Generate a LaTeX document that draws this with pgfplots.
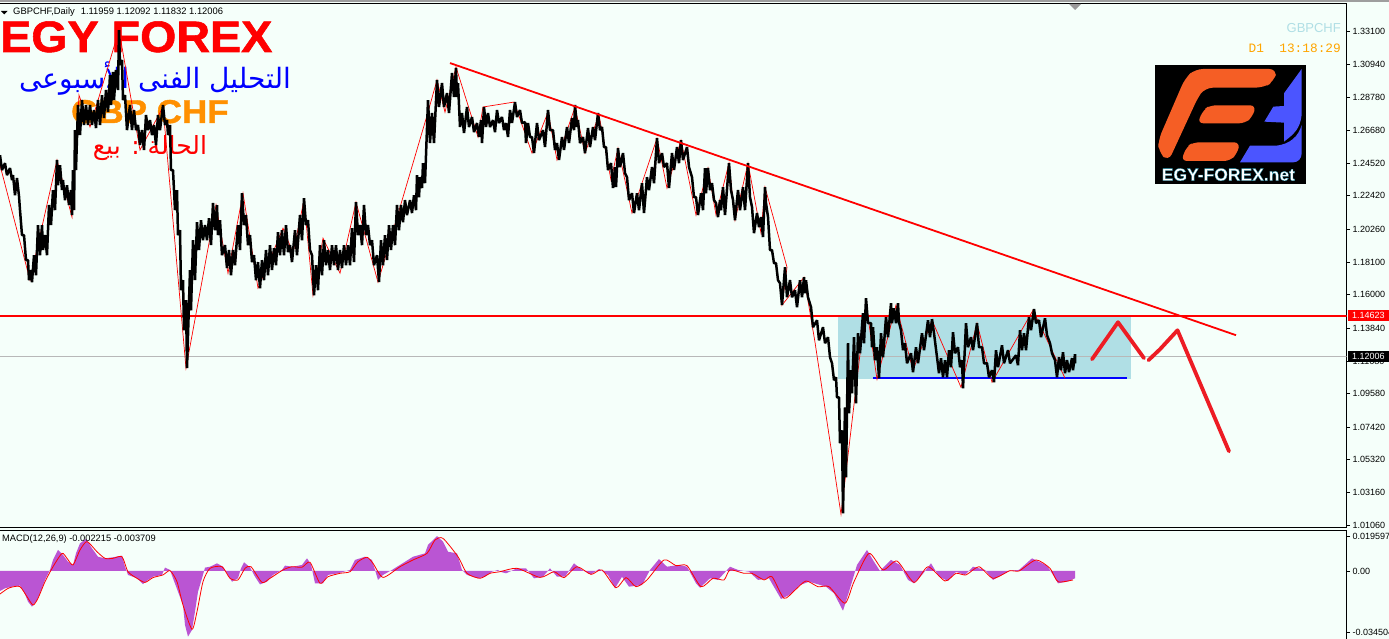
\documentclass[border=0pt]{standalone}
\usepackage{pgfplots}
\pgfplotsset{compat=1.18}
\usepackage{fontspec}
\setmainfont{Liberation Sans}
\newfontfamily\arabicfont[Script=Arabic]{DejaVu Sans}
\newfontfamily\monofont{Liberation Mono}
\newfontfamily\heavyfont[FakeBold=1.2]{Liberation Sans Bold}
\newfontfamily\glowfont[FakeBold=1.6]{Liberation Sans Bold}
\TeXXeTstate=1
\definecolor{bgmint}{HTML}{F5FFFA}
\definecolor{boxblue}{HTML}{B0DFE5}
\definecolor{macdfill}{HTML}{BA55D3}
\definecolor{drawred}{HTML}{ED1C24}
\definecolor{logoorange}{HTML}{F55E25}
\definecolor{logoblue}{HTML}{4B55FF}
\definecolor{titleorange}{HTML}{FF9000}
\definecolor{clockorange}{HTML}{FFA500}
\newcommand{\fs}[1]{\fontsize{#1}{#1}\selectfont}

\begin{document}
\begin{tikzpicture}[x=1pt,y=1pt]
\useasboundingbox (0,0) rectangle (1389,639);
\fill[bgmint] (0,0) rectangle (1389,639);
\fill[black!38] (0,636.5) rectangle (1389,639);

% texts sit under the price line
\node[anchor=base west,inner sep=0,text=red,font=\heavyfont\fs{44}] at (0,587) {\scalebox{1.06}[1]{EGY FOREX}};
\node[anchor=center,inner sep=0,text=blue,font=\fs{28}\arabicfont] at (155,560) {\beginR التحليل الفنى الأسبوعى\endR};
\node[anchor=base west,inner sep=0,text=titleorange,font=\heavyfont\fs{33}] at (71,516) {\scalebox{1.06}[1]{GBP CHF}};
\node[anchor=center,inner sep=0,text=red,font=\fs{25}\arabicfont] at (150,491) {\beginR الحالة : بيع\endR};

\begin{axis}[
  at={(-2pt,111pt)}, anchor=south west, scale only axis,
  width=1348.5pt, height=524pt,
  xmin=-2, xmax=1346.5, ymin=1.00866, ymax=1.34851,
  xtick=\empty, scaled y ticks=false,
  ytick pos=right, yticklabel pos=right,
  ytick={1.331,1.3094,1.2878,1.2668,1.2452,1.2242,1.2026,1.181,1.16,1.1384,1.1168,1.0958,1.0742,1.0532,1.0316,1.0106},
  yticklabels={1.33100,1.30940,1.28780,1.26680,1.24520,1.22420,1.20260,1.18100,1.16000,1.13840,1.11680,1.09580,1.07420,1.05320,1.03160,1.01060},
  tick align=outside, major tick length=3.5pt,
  tick style={black,line width=0.8pt},
  y tick label style={font=\fs{9},xshift=-1pt},
  axis line style={black,line width=1pt},
]
% consolidation box
\addplot[fill=boxblue,draw=none] coordinates {(838,1.1454)(1131,1.1454)(1131,1.1055)(838,1.1055)};
% last price line
\addplot[black!28,line width=0.9pt] coordinates {(-2,1.12006)(1346.5,1.12006)};
% resistance
\addplot[red,line width=1.8pt] coordinates {(-2,1.14623)(1346.5,1.14623)};
% support
\addplot[blue,line width=1.8pt] coordinates {(873,1.1058)(1127,1.1058)};
% zigzag
\addplot[red,line width=0.7pt] coordinates {
(0,1.2440)(30,1.1694)(57,1.2473)(72,1.2103)(79,1.2894)(90,1.2687)(119,1.3316)(140,1.2538)(163,1.2817)(186,1.1123)
(216,1.2181)(228,1.1739)(243,1.2258)(258,1.1642)(283,1.2031)(293,1.1869)(304,1.2213)(313,1.1596)(323,1.1966)(340,1.1739)
(356,1.2200)(378,1.1681)(428,1.2784)(437,1.2992)(445,1.2784)(456,1.3076)(478,1.2622)(483,1.2817)(514,1.2849)(532,1.2518)
(548,1.2784)(557,1.2473)(575,1.2817)(585,1.2518)(599,1.2765)(611,1.2343)(618,1.2550)(632,1.2129)(657,1.2615)(667,1.2291)
(681,1.2602)(696,1.2116)(708,1.2421)(716,1.2116)(729,1.2453)(735,1.2083)(748,1.2453)(761,1.1999)(765,1.2297)(787,1.1778)
(782,1.1532)(804,1.1713)(815,1.1291)(841,1.0175)(866,1.1544)(877,1.1051)(896,1.1532)(913,1.1110)(932,1.1434)(961,1.0999)
(977,1.1415)(992,1.1032)(1033,1.1499)(1065,1.1058)
};
% price, high and low of each stretch
\addplot[black,line width=2.5pt,line join=bevel] coordinates {
(0,1.2505)(2,1.2408)(5,1.2453)(7,1.2375)(10,1.2421)(12,1.2343)(13,1.2375)(15,1.2245)(17,1.2356)(19,1.2239)
(20,1.2148)(22,1.1986)(24,1.1986)(26,1.1824)(28,1.1824)(29,1.1694)(31,1.1759)(32,1.1681)(34,1.1856)(36,1.1726)
(38,1.2051)(40,1.1856)(42,1.2051)(43,1.1889)(45,1.1986)(47,1.1856)(49,1.2181)(51,1.2051)(53,1.2278)(55,1.2148)
(57,1.2473)(58,1.2310)(60,1.2440)(62,1.2278)(63,1.2343)(65,1.2213)(67,1.2310)(69,1.2181)(71,1.2278)(72,1.2116)
(73,1.2408)(74,1.2148)(75,1.2667)(76,1.2408)(78,1.2830)(80,1.2635)(82,1.2862)(84,1.2700)(86,1.2830)(88,1.2700)
(90,1.2830)(92,1.2700)(94,1.2797)(96,1.2680)(98,1.2862)(100,1.2700)(102,1.2894)(104,1.2745)(106,1.2927)(108,1.2784)
(110,1.3024)(111,1.2830)(113,1.3044)(114,1.2862)(116,1.3057)(118,1.2927)(119,1.3316)(120,1.3089)(122,1.3122)(123,1.2862)
(125,1.2894)(127,1.2667)(130,1.2830)(132,1.2667)(134,1.2797)(136,1.2667)(138,1.2700)(140,1.2570)(142,1.2667)(144,1.2538)
(146,1.2765)(148,1.2667)(150,1.2732)(152,1.2635)(154,1.2700)(156,1.2570)(158,1.2765)(160,1.2667)(163,1.2830)(165,1.2700)
(167,1.2732)(168,1.2635)(170,1.2700)(171,1.2408)(173,1.2408)(175,1.2148)(177,1.2278)(178,1.1986)(180,1.2018)(181,1.1629)
(183,1.1694)(184,1.1369)(186,1.1564)(187,1.1123)(190,1.1759)(191,1.1499)(193,1.1953)(195,1.1694)(197,1.2070)(199,1.1889)
(201,1.2083)(203,1.1953)(205,1.2051)(207,1.1953)(209,1.2096)(211,1.1921)(213,1.2194)(215,1.2018)(217,1.2181)(218,1.1986)
(220,1.2083)(222,1.1856)(225,1.1921)(227,1.1772)(229,1.1889)(231,1.1726)(233,1.1889)(235,1.1791)(238,1.2051)(240,1.1889)
(242,1.2258)(244,1.2051)(246,1.2116)(248,1.1921)(250,1.1986)(252,1.1811)(254,1.1856)(256,1.1694)(258,1.1811)(260,1.1642)
(262,1.1824)(264,1.1694)(266,1.1889)(268,1.1726)(270,1.1921)(272,1.1759)(274,1.1901)(276,1.1791)(278,1.2005)(280,1.1856)
(282,1.2018)(284,1.1856)(286,1.2051)(288,1.1876)(290,1.1921)(292,1.1811)(295,1.2018)(297,1.1856)(300,1.2116)(302,1.1953)
(304,1.2226)(306,1.2051)(308,1.2083)(310,1.1889)(312,1.1856)(314,1.1596)(316,1.1791)(318,1.1629)(320,1.1921)(322,1.1726)
(324,1.1953)(326,1.1791)(328,1.1889)(330,1.1759)(332,1.1921)(334,1.1791)(336,1.1921)(338,1.1759)(340,1.1889)(342,1.1772)
(344,1.1921)(346,1.1791)(348,1.1921)(350,1.1791)(352,1.2031)(354,1.1811)(356,1.2200)(358,1.1986)(360,1.2051)(362,1.1921)
(364,1.2181)(366,1.1986)(368,1.2051)(370,1.1921)(372,1.1953)(374,1.1791)(377,1.1856)(379,1.1681)(381,1.1953)(383,1.1791)
(385,1.1986)(387,1.1824)(389,1.2051)(391,1.1889)(393,1.2051)(395,1.1921)(397,1.2181)(399,1.2018)(401,1.2181)(403,1.2070)
(405,1.2213)(407,1.2116)(410,1.2213)(412,1.2129)(414,1.2245)(416,1.2148)(417,1.2375)(419,1.2232)(420,1.2362)(422,1.2291)
(423,1.2453)(425,1.2323)(428,1.2862)(430,1.2583)(432,1.2778)(434,1.2583)(437,1.2992)(439,1.2817)(442,1.2972)(444,1.2817)
(447,1.2907)(449,1.2778)(452,1.3037)(454,1.2881)(456,1.3070)(457,1.2881)(458,1.2972)(460,1.2687)(462,1.2778)(464,1.2648)
(467,1.2817)(469,1.2687)(472,1.2752)(474,1.2654)(477,1.2713)(479,1.2622)(481,1.2732)(482,1.2583)(484,1.2817)(486,1.2687)
(488,1.2778)(490,1.2687)(493,1.2732)(495,1.2654)(497,1.2797)(499,1.2713)(502,1.2752)(504,1.2667)(506,1.2713)(508,1.2622)
(510,1.2797)(512,1.2713)(515,1.2849)(517,1.2752)(520,1.2797)(522,1.2713)(525,1.2719)(526,1.2583)(528,1.2713)(530,1.2622)
(532,1.2622)(534,1.2518)(537,1.2713)(539,1.2602)(543,1.2667)(545,1.2557)(548,1.2797)(550,1.2667)(553,1.2667)(555,1.2538)
(557,1.2583)(559,1.2473)(562,1.2622)(564,1.2538)(567,1.2687)(569,1.2583)(572,1.2745)(574,1.2667)(575,1.2830)(577,1.2687)
(578,1.2732)(580,1.2583)(583,1.2622)(585,1.2518)(588,1.2680)(590,1.2557)(593,1.2687)(595,1.2602)(598,1.2778)(600,1.2667)
(602,1.2687)(604,1.2557)(606,1.2557)(608,1.2408)(611,1.2453)(613,1.2291)(615,1.2427)(616,1.2297)(618,1.2550)(620,1.2427)
(623,1.2518)(625,1.2388)(627,1.2362)(629,1.2213)(632,1.2258)(634,1.2129)(637,1.2258)(639,1.2148)(642,1.2323)(644,1.2129)
(647,1.2362)(649,1.2278)(652,1.2427)(654,1.2323)(657,1.2615)(659,1.2453)(662,1.2518)(664,1.2427)(667,1.2453)(669,1.2291)
(672,1.2518)(674,1.2408)(677,1.2557)(679,1.2453)(681,1.2602)(683,1.2473)(687,1.2557)(689,1.2427)(692,1.2362)(694,1.2232)
(696,1.2232)(698,1.2116)(701,1.2258)(703,1.2148)(705,1.2421)(706,1.2258)(708,1.2421)(710,1.2278)(712,1.2323)(714,1.2213)
(716,1.2194)(718,1.2103)(720,1.2213)(721,1.2148)(723,1.2297)(725,1.2116)(729,1.2453)(731,1.2278)(733,1.2213)(735,1.2083)
(738,1.2278)(740,1.2148)(743,1.2297)(745,1.2148)(748,1.2453)(750,1.2232)(752,1.2168)(754,1.1999)(757,1.2129)(759,1.2038)
(761,1.2103)(763,1.1973)(765,1.2297)(766,1.2194)(768,1.2103)(770,1.1889)(772,1.1889)(774,1.1804)(776,1.1804)(778,1.1694)
(780,1.1674)(782,1.1532)(785,1.1778)(787,1.1583)(790,1.1694)(792,1.1583)(795,1.1629)(797,1.1519)(800,1.1694)(802,1.1583)
(804,1.1713)(805,1.1609)(806,1.1694)(808,1.1583)(811,1.1519)(813,1.1389)(817,1.1434)(819,1.1304)(823,1.1389)(825,1.1285)
(828,1.1324)(830,1.1194)(832,1.1155)(834,1.1045)(836,1.1064)(837,1.0934)(839,1.0934)(840,1.0636)(842,1.0720)(843,1.0182)
(845,1.0869)(846,1.0415)(848,1.1285)(849,1.0831)(851,1.1110)(852,1.0960)(854,1.1324)(856,1.0895)(858,1.1350)(860,1.1220)
(863,1.1480)(864,1.1285)(866,1.1577)(868,1.1415)(871,1.1415)(872,1.1259)(873,1.1389)(875,1.1175)(877,1.1259)(879,1.1058)
(881,1.1350)(883,1.1194)(886,1.1454)(888,1.1324)(891,1.1544)(892,1.1415)(894,1.1512)(896,1.1415)(898,1.1544)(899,1.1421)
(901,1.1369)(903,1.1240)(905,1.1285)(907,1.1155)(911,1.1220)(913,1.1097)(916,1.1259)(918,1.1155)(922,1.1350)(924,1.1240)
(928,1.1434)(930,1.1324)(932,1.1441)(934,1.1350)(937,1.1194)(939,1.1090)(941,1.1188)(943,1.1064)(945,1.1175)(947,1.1064)
(949,1.1240)(951,1.1129)(953,1.1356)(955,1.1220)(958,1.1259)(960,1.1129)(962,1.1175)(963,1.0993)(966,1.1415)(968,1.1259)
(971,1.1324)(973,1.1240)(977,1.1415)(979,1.1259)(982,1.1259)(984,1.1155)(987,1.1155)(989,1.1064)(992,1.1110)(994,1.1032)
(996,1.1240)(998,1.1129)(1002,1.1272)(1004,1.1155)(1008,1.1240)(1010,1.1155)(1016,1.1207)(1018,1.1142)(1020,1.1369)(1022,1.1240)
(1024,1.1350)(1026,1.1240)(1029,1.1454)(1031,1.1369)(1034,1.1506)(1036,1.1415)(1039,1.1434)(1041,1.1324)(1045,1.1447)(1047,1.1337)
(1050,1.1285)(1052,1.1220)(1055,1.1175)(1057,1.1064)(1059,1.1194)(1061,1.1110)(1063,1.1227)(1065,1.1090)(1067,1.1175)(1069,1.1097)
(1072,1.1188)(1073,1.1110)(1075,1.1214)(1075,1.1155)
};
% trend line
\addplot[red,line width=1.8pt] coordinates {(450,1.3102)(1236,1.1337)};
% hand drawn forecast
\addplot[drawred,line width=3.8pt,line cap=round,line join=round] coordinates {(1092,1.1181)(1118,1.1421)(1144,1.1188)};
\addplot[drawred,line width=3.8pt,line cap=round,line join=round] coordinates {(1148.5,1.1175)(1160,1.1246)(1177.5,1.1369)(1229,1.0584)};
\end{axis}

\begin{axis}[
  at={(-2pt,-2pt)}, anchor=south west, scale only axis,
  width=1348.5pt, height=110pt,
  xmin=-2, xmax=1346.5, ymin=-0.03927, ymax=0.02244,
  xtick=\empty, scaled y ticks=false,
  ytick pos=right, yticklabel pos=right,
  ytick={0.019597,0,-0.034504},
  yticklabels={0.019597,0.00,-0.034504},
  tick align=outside, major tick length=3.5pt,
  tick style={black,line width=0.8pt},
  y tick label style={font=\fs{9},xshift=-1pt},
  axis line style={black,line width=1pt},
]
\addplot[fill=macdfill,draw=none] coordinates {
(0,0)(0,-.0112)(5,-.0097)(12,-.0088)(20,-.0082)(24,-.0116)(28,-.0172)(32,-.0200)(37,-.0163)(42,-.0097)(45,-.0050)
(50,.0006)(53,.0062)(58,.0118)(63,.0090)(68,.0052)(73,.0034)(76,.0099)(80,.0155)(86,.0180)(92,.0127)(98,.0080)
(105,.0071)(113,.0077)(122,.0086)(125,.0024)(128,-.0022)(137,-.0041)(143,-.0073)(148,-.0050)(153,-.0032)(162,-.0022)
(165,.0019)(170,.0006)(173,-.0041)(178,-.0116)(183,-.0191)(185,-.0303)(188,-.0368)(192,-.0331)(195,-.0228)(198,-.0116)
(202,-.0041)(205,.0019)(210,.0024)(217,.0043)(223,.0024)(227,-.0013)(232,-.0060)(238,-.0041)(241,.0015)(244,.0049)
(250,.0021)(255,-.0032)(260,-.0075)(267,-.0060)(273,-.0022)(282,.0006)(285,.0030)(293,.0024)(302,.0034)(307,.0071)
(311,.0037)(315,-.0069)(323,-.0069)(328,-.0022)(338,-.0013)(350,.0006)(355,.0062)(365,.0080)(372,.0062)(375,.0006)
(378,-.0050)(383,-.0022)(392,.0006)(400,.0034)(413,.0080)(425,.0099)(428,.0146)(437,.0196)(443,.0165)(448,.0108)
(457,.0099)(462,.0006)(467,-.0022)(478,-.0041)(485,-.0032)(492,-.0004)(498,.0006)(500,-.0004)(506,-.0013)(517,.0015)
(526,.0015)(534,-.0041)(543,-.0032)(550,.0015)(557,-.0032)(565,-.0032)(574,.0043)(582,.0006)(591,-.0019)(599,.0011)
(608,-.0022)(615,-.0097)(622,-.0032)(629,-.0088)(642,-.0079)(650,.0006)(659,.0067)(667,.0024)(679,.0034)(687,.0024)
(696,-.0069)(700,-.0094)(710,-.0041)(718,-.0050)(730,.0024)(738,.0006)(749,-.0004)(758,-.0050)(769,-.0041)(781,-.0157)
(789,-.0135)(800,-.0079)(809,-.0060)(826,-.0088)(834,-.0125)(843,-.0223)(849,-.0116)(857,.0034)(867,.0118)(874,.0052)
(880,0)(891,.0062)(900,.0034)(908,-.0050)(914,-.0069)(922,-.0022)(931,.0043)(939,-.0032)(948,-.0056)(956,-.0004)
(965,-.0022)(973,.0024)(985,.0006)(993,-.0050)(1002,-.0022)(1010,.0002)(1019,.0006)(1032,.0071)(1047,.0030)(1053,-.0022)
(1058,-.0069)(1067,-.0060)(1075,-.0041)(1075,0)
};
\addplot[red,line width=0.8pt,smooth,tension=0.4] coordinates {
(0,-.0129)(7,-.0101)(12,-.0090)(20,-.0088)(27,-.0144)(33,-.0191)(38,-.0153)(45,-.0060)(53,.0024)(62,.0099)(67,.0071)
(73,.0034)(80,.0118)(87,.0165)(97,.0108)(105,.0071)(113,.0071)(122,.0080)(128,-.0004)(137,-.0041)(145,-.0064)(153,-.0037)
(163,-.0022)(170,.0002)(177,-.0060)(183,-.0191)(192,-.0327)(197,-.0228)(203,-.0060)(210,.0015)(222,.0024)(230,-.0041)
(238,-.0050)(245,.0015)(251,.0024)(262,-.0064)(270,-.0041)(283,.0006)(292,.0024)(302,.0021)(310,.0049)(320,-.0069)
(328,-.0032)(340,-.0013)(350,-.0004)(358,.0052)(367,.0077)(373,.0043)(383,-.0036)(400,.0024)(413,.0062)(427,.0099)
(435,.0174)(443,.0183)(458,.0080)(467,-.0013)(480,-.0041)(490,-.0013)(500,-.0004)(517,.0015)(540,-.0036)(554,-.0004)
(564,-.0037)(577,.0024)(591,-.0019)(602,.0006)(616,-.0094)(626,-.0037)(636,-.0088)(647,-.0050)(664,.0062)(676,.0030)
(687,.0030)(701,-.0088)(713,-.0041)(724,-.0050)(730,.0006)(744,-.0013)(752,-.0013)(764,-.0050)(772,-.0032)(784,-.0153)
(795,-.0107)(806,-.0056)(818,-.0088)(829,-.0088)(845,-.0181)(854,-.0060)(869,.0099)(883,.0006)(897,.0056)(914,-.0064)
(928,.0024)(945,-.0056)(956,-.0013)(966,-.0022)(979,.0024)(993,-.0041)(1010,.0002)(1019,0)(1036,.0062)(1050,.0015)
(1058,-.0060)(1073,-.0050)
};
\end{axis}

% header texts
\fill[black] (1,628) -- (7.5,628) -- (4.25,624.5) -- cycle;
\node[anchor=west,inner sep=0,font=\fs{9.4}] at (13,626.5) {GBPCHF,Daily\hspace{6pt}1.11959 1.12092 1.11832 1.12006};
\node[anchor=west,inner sep=0,font=\fs{9.3}] at (2,100) {MACD(12,26,9) -0.002215 -0.003709};
\fill[black!40] (1069,635) -- (1081,635) -- (1075,629) -- cycle;
\node[anchor=east,inner sep=0,text=boxblue,font=\fs{13}] at (1341,610.5) {GBPCHF};
\node[anchor=east,inner sep=0,text=clockorange,font=\monofont\fs{12.8}] at (1341,590.5) {D1\ \ 13:18:29};

% price tags
\fill[red] (1347.5,318) rectangle (1389,329);
\node[anchor=west,inner sep=0,text=white,font=\fs{9}] at (1352,323.5) {1.14623};
\fill[black] (1347.5,277) rectangle (1389,288);
\node[anchor=west,inner sep=0,text=white,font=\fs{9}] at (1352,282.5) {1.12006};

% logo
\begin{scope}[shift={(1130,639)},x=0.3333pt,y=-0.3333pt]
\fill[black] (75,195) rectangle (527,552);
\fill[logoorange,rounded corners=8pt] (442,207) -- (195,207) -- (165,235) -- (85,420) -- (85,455) -- (115,485) -- (205,290) -- (225,263) -- (400,263) -- (432,245) -- cycle;
\fill[logoorange,rounded corners=6pt] (378,316) -- (240,316) -- (220,330) -- (202,370) -- (345,370) -- (368,350) -- cycle;
\fill[logoorange,rounded corners=6pt] (330,427) -- (190,427) -- (170,440) -- (153,483) -- (300,483) -- (322,460) -- cycle;
\fill[logoblue] (515,207) -- (462,280) -- (462,318) -- (430,320) -- (403,365) -- (462,368) -- (462,425) .. controls (495,400) and (510,385) .. (515,345) -- cycle;
\fill[logoblue] (515,375) .. controls (505,410) and (480,432) .. (440,437) -- (360,437) -- (330,487) -- (490,487) .. controls (505,487) and (515,475) .. (515,460) -- cycle;
\node[inner sep=0,font=\glowfont\fs{17.5}] at (295,524) {\special{pdf:bcolor [1 1 1] [0.1 0.55 0.65]}EGY-FOREX.net\special{pdf:ecolor}};
\end{scope}
\end{tikzpicture}
\end{document}
